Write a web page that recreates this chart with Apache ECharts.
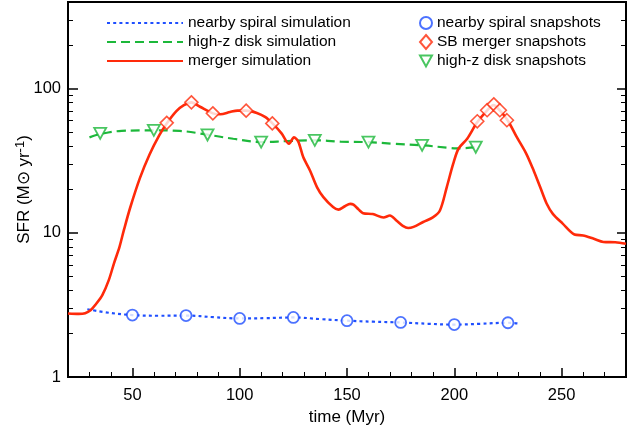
<!DOCTYPE html>
<html>
<head>
<meta charset="utf-8">
<script src="https://cdn.jsdelivr.net/npm/echarts@6/dist/echarts.min.js"></script>
<style>
html,body{margin:0;padding:0;background:#fff;}
#chart{width:639px;height:427px;}
</style>
</head>
<body>
<div id="chart"></div>
<script>
// ---- data (time in Myr, SFR in Msun/yr) ----
var spiralSimT   = [29, 40, 50, 62, 75, 88, 100, 112, 125, 138, 150, 162, 175, 188, 200, 212, 225, 230];
var spiralSimSFR = [2.95, 2.78, 2.69, 2.66, 2.67, 2.6, 2.55, 2.56, 2.59, 2.52, 2.46, 2.42, 2.39, 2.34, 2.31, 2.34, 2.38, 2.35];

var diskSimT   = [30, 35, 45, 60, 72, 85, 97, 110, 122, 135, 147, 160, 172, 185, 197, 201, 210];
var diskSimSFR = [46, 48.5, 51, 51.5, 51, 48, 45, 42.7, 43.3, 43.9, 43, 42.6, 41.5, 40.5, 39, 38.6, 39.2];

var mergerSimT   = [20, 25, 28, 30.5, 33, 36, 39, 41.5, 44, 46, 49, 53.5, 58, 62.5, 66, 70.5, 74, 77.5, 81.5, 87.5, 91, 95.5, 99, 103, 108, 112, 115.5, 119.5, 123, 125.3, 127.3, 129.6, 132.8, 136, 139, 143.5, 146, 149, 151.5, 153, 155.5, 157.5, 162, 167, 170, 173, 176, 178.5, 181, 185.5, 190, 193.3, 196.5, 199.5, 202, 206, 210.5, 215, 218.3, 221.5, 225, 229, 233.5, 237, 240, 243, 246, 250.5, 256, 260, 265, 269.5, 275, 280];
var mergerSimSFR = [2.76, 2.74, 2.77, 2.9, 3.2, 3.7, 4.7, 6.2, 8, 10.4, 15, 24, 35, 47.5, 57.5, 70, 77, 80.5, 75, 67.5, 66.5, 69, 70.5, 70.5, 68, 63.5, 57, 49, 41.5, 46, 43, 33.6, 27, 20.8, 17.7, 15.1, 14.5, 15.3, 15.9, 15.7, 14.5, 13.7, 13.5, 12.8, 13.2, 12.2, 11.2, 10.8, 11, 11.9, 12.8, 14.3, 20.8, 30.2, 38.5, 45, 58, 70, 77, 70, 60, 46.5, 35.5, 27, 20.8, 16, 13.5, 11.6, 9.75, 9.6, 9.1, 8.65, 8.6, 8.4];

var spiralSnapT   = [50, 75, 100, 125, 150, 175, 200, 225];
var spiralSnapSFR = [2.69, 2.67, 2.55, 2.59, 2.46, 2.39, 2.31, 2.38];

var mergerSnapT   = [66, 77.5, 87.5, 103, 115.2, 210.7, 215.3, 218.4, 221.2, 224.5];
var mergerSnapSFR = [58, 80.5, 67.5, 70.5, 57.5, 59.5, 71, 78, 71, 60.5];

var diskSnapT   = [35, 60, 85, 110, 135, 160, 185, 210];
var diskSnapSFR = [49, 51.5, 47.8, 42.7, 43.9, 42.6, 40.5, 39.3];

var xMajor = [50, 100, 150, 200, 250];
var xMinor = [30, 40, 60, 70, 80, 90, 110, 120, 130, 140, 160, 170, 180, 190, 210, 220, 230, 240, 260, 270];
var yMajor = [1, 10, 100];
var yMinor = [2, 3, 4, 5, 6, 7, 8, 9, 20, 30, 40, 50, 60, 70, 80, 90, 200, 300];

var names = ['nearby spiral simulation', 'high-z disk simulation', 'merger simulation',
             'nearby spiral snapshots', 'SB merger snapshots', 'high-z disk snapshots'];

function pairs(t, v) { return t.map(function (x, i) { return [x, v[i]]; }); }

var BLUE = '#1f4fff', GREEN = '#1cb83a', RED = '#ff2a0a';
var FONT = '"Liberation Sans", Arial, Helvetica, sans-serif';

var chart = echarts.init(document.getElementById('chart'), null, {renderer: 'canvas'});

function xAx(extra) {
  return Object.assign({
    type: 'value', min: 20, max: 280, position: 'bottom',
    axisLine: {show: false}, splitLine: {show: false}
  }, extra);
}
function yAx(pos, extra) {
  return Object.assign({
    type: 'log', logBase: 10, min: 1, max: 400, position: pos,
    axisLine: {show: false}, splitLine: {show: false}
  }, extra);
}

var option = {
  backgroundColor: '#fff',
  animation: false,
  textStyle: {fontFamily: FONT},
  grid: {left: 68, right: 13, top: 2, bottom: 50, show: true, borderColor: '#000', borderWidth: 2,
         backgroundColor: 'transparent', containLabel: false, outerBoundsMode: 'none'},
  legend: [
    {
      data: names.slice(0, 3), orient: 'vertical', left: 101, top: 10,
      itemWidth: 76, itemHeight: 14, itemGap: 3,
      itemStyle: {opacity: 0},
      textStyle: {fontSize: 15.5, color: '#000', fontFamily: FONT}
    },
    {
      data: names.slice(3), orient: 'vertical', left: 414, top: 10,
      itemWidth: 12, itemHeight: 14, itemGap: 3,
      textStyle: {fontSize: 15.5, color: '#000', fontFamily: FONT}
    }
  ],
  xAxis: [
    xAx({
      name: 'time (Myr)', nameLocation: 'middle', nameGap: 30,
      nameTextStyle: {fontSize: 17, color: '#000', fontFamily: FONT},
      axisLabel: {customValues: xMajor, fontSize: 16.5, color: '#000', margin: 10, fontFamily: FONT},
      axisTick: {customValues: xMajor, inside: true, length: 9, lineStyle: {color: '#000', width: 1.5}}
    }),
    xAx({
      axisLabel: {show: false},
      axisTick: {customValues: xMinor, inside: true, length: 5, lineStyle: {color: '#000', width: 1}}
    })
  ],
  yAxis: [
    yAx('left', {
      name: '{a|SFR (M⊙ yr}{s|-1}{a|)}', nameLocation: 'middle', nameGap: 34, nameRotate: 90,
      nameMoveOverlap: false,
      nameTextStyle: {rich: {
        a: {fontSize: 17, color: '#000', fontFamily: FONT, lineHeight: 20},
        s: {fontSize: 13, color: '#000', fontFamily: FONT, lineHeight: 20, verticalAlign: 'top'}
      }},
      axisLabel: {customValues: yMajor, fontSize: 16.5, color: '#000', margin: 7, fontFamily: FONT},
      axisTick: {customValues: yMajor, inside: true, length: 10, lineStyle: {color: '#000', width: 1.5}}
    }),
    yAx('left', {
      axisLabel: {show: false},
      axisTick: {customValues: yMinor, inside: true, length: 5, lineStyle: {color: '#000', width: 1}}
    }),
    yAx('right', {
      axisLabel: {show: false},
      axisTick: {customValues: yMajor, inside: true, length: 9, lineStyle: {color: '#000', width: 1.5}}
    }),
    yAx('right', {
      axisLabel: {show: false},
      axisTick: {customValues: yMinor, inside: true, length: 5, lineStyle: {color: '#000', width: 1}}
    })
  ],
  series: [
    {
      name: names[0], type: 'line', data: pairs(spiralSimT, spiralSimSFR),
      smooth: 0.4, symbol: 'none', showSymbol: false, z: 2,
      lineStyle: {color: BLUE, width: 2.2, type: [3, 3.2]}, itemStyle: {color: BLUE}
    },
    {
      name: names[1], type: 'line', data: pairs(diskSimT, diskSimSFR),
      smooth: 0.4, symbol: 'none', showSymbol: false, z: 2,
      lineStyle: {color: GREEN, width: 2.2, type: [9, 5]}, itemStyle: {color: GREEN}
    },
    {
      name: names[2], type: 'line', data: pairs(mergerSimT, mergerSimSFR),
      smooth: 0.3, symbol: 'none', showSymbol: false, z: 3,
      lineStyle: {color: RED, width: 2.6}, itemStyle: {color: RED}
    },
    {
      name: names[3], type: 'scatter', data: pairs(spiralSnapT, spiralSnapSFR),
      symbol: 'circle', symbolSize: 11, z: 5,
      itemStyle: {color: '#fff', borderColor: BLUE, borderWidth: 1.8}
    },
    {
      name: names[4], type: 'scatter', data: pairs(mergerSnapT, mergerSnapSFR),
      symbol: 'diamond', symbolSize: 13, z: 5,
      itemStyle: {color: '#fff', borderColor: RED, borderWidth: 1.6}
    },
    {
      name: names[5], type: 'scatter', data: pairs(diskSnapT, diskSnapSFR),
      symbol: 'path://M0,0 L12,0 L6,11 Z', symbolSize: [12, 11], z: 5,
      itemStyle: {color: '#fff', borderColor: GREEN, borderWidth: 1.8}
    }
  ]
};
chart.setOption(option);
</script>
</body>
</html>
